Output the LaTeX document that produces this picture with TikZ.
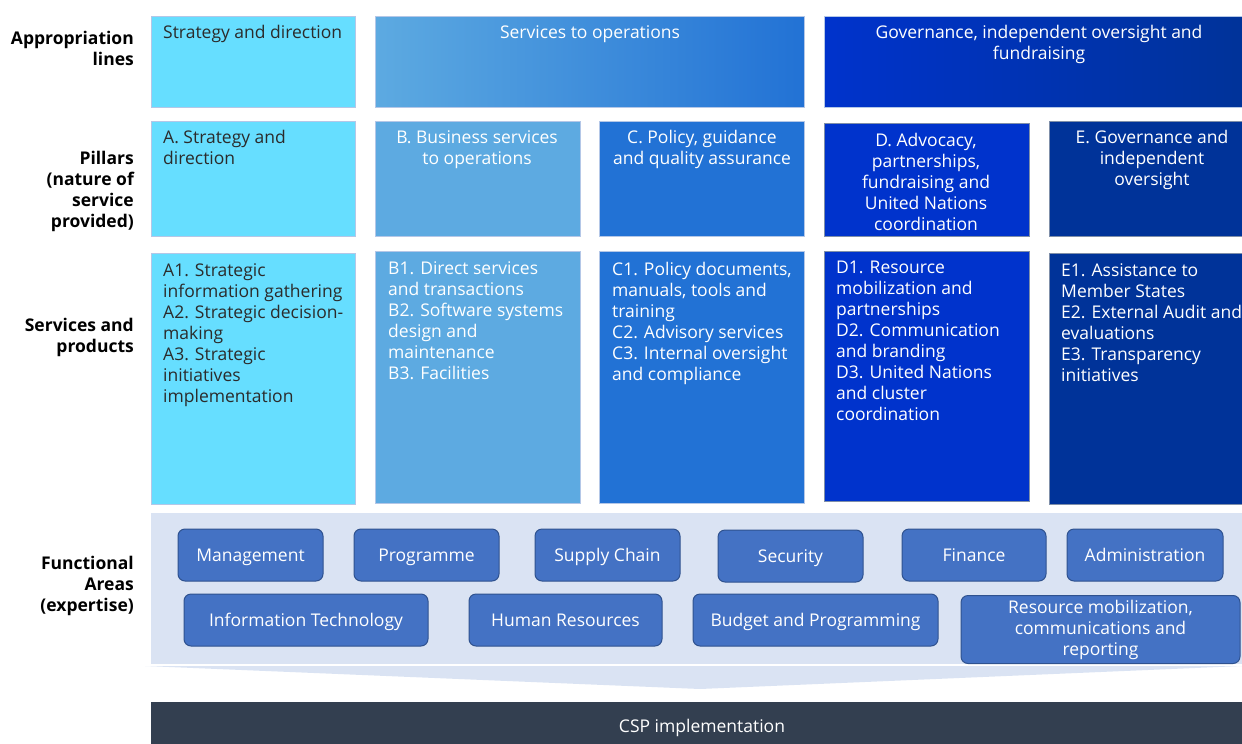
\documentclass[tikz,border=0pt]{standalone}
\usepackage{fontspec}
\setmainfont{Open Sans}
\definecolor{cyanA}{HTML}{66DEFF}
\definecolor{blueB}{HTML}{5DAAE1}
\definecolor{blueC}{HTML}{2272D5}
\definecolor{blueD}{HTML}{0033CC}
\definecolor{navyE}{HTML}{003399}
\definecolor{boxline}{HTML}{B4C7E7}
\definecolor{darkline}{HTML}{7F8FA9}
\definecolor{darktxt}{HTML}{2B2B2B}
\definecolor{band}{HTML}{DAE3F3}
\definecolor{pillfill}{HTML}{4472C4}
\definecolor{pillline}{HTML}{2F528F}
\definecolor{cspcol}{HTML}{333F50}
\begin{document}
\begin{tikzpicture}[x=1pt,y=-1pt,
  box/.style={draw=boxline, line width=0.8pt, anchor=north west, inner sep=0pt, outer sep=0pt},
  txt/.style={inner sep=0pt, font=\fontsize{17.5}{21}\selectfont, align=left, anchor=north west},
  ctxt/.style={inner sep=0pt, font=\fontsize{17.5}{21}\selectfont, align=center, anchor=north, text=white},
  lab/.style={inner sep=0pt, font=\fontsize{17.5}{21}\selectfont\bfseries, align=right, anchor=north east, text=black},
  pill/.style={draw=pillline, fill=pillfill, rounded corners=7pt, line width=1pt, text=white,
    font=\fontsize{17.5}{21}\selectfont, inner sep=0pt},
  oneline/.style={text height=12.5pt, text depth=0pt}
]
\useasboundingbox (0,0) rectangle (1242,744);

% left labels
\node[lab] (l1) at (134,31) {Appropriation\\lines};
\node[lab] (l2) at (134,151) {Pillars\\(nature of\\service\\provided)};
\node[lab] (l3) at (134,318) {Services and\\products};
\node[lab] (l4) at (134,556) {Functional\\Areas\\(expertise)};

% row 1: appropriation lines
\node[box, fill=cyanA, minimum width=204, minimum height=91] (apA) at (151,16) {};
\node[box, left color=blueB, right color=blueC, minimum width=429, minimum height=91] (apB) at (375,16) {};
\node[box, left color=blueD, right color=navyE, minimum width=420, minimum height=91] (apC) at (824,16) {};
\node[txt, text=darktxt] (tapA) at (163,25.5) {Strategy and direction};
\node[ctxt] (tapB) at (590,25.5) {Services to operations};
\node[ctxt] (tapC) at (1039,25.5) {Governance, independent oversight and\\fundraising};

% row 2: pillars
\node[box, fill=cyanA, minimum width=204, minimum height=115] (pA) at (151,121) {};
\node[box, fill=blueB, minimum width=205, minimum height=115] (pB) at (375,121) {};
\node[box, fill=blueC, minimum width=205, minimum height=115] (pC) at (599,121) {};
\node[box, draw=darkline, fill=blueD, minimum width=205, minimum height=113] (pD) at (824,123) {};
\node[box, draw=darkline, fill=navyE, minimum width=195, minimum height=115] (pE) at (1049,121) {};
\node[txt, text=darktxt] (tpA) at (163,130) {A. Strategy and\\direction};
\node[ctxt] (tpB) at (477,130) {B. Business services\\to operations};
\node[ctxt] (tpC) at (702,130) {C. Policy, guidance\\and quality assurance};
\node[ctxt] (tpD) at (926,133) {D. Advocacy,\\partnerships,\\fundraising and\\United Nations\\coordination};
\node[ctxt] (tpE) at (1152,130) {E. Governance and\\independent\\oversight};

% row 3: services and products
\node[box, fill=cyanA, minimum width=204, minimum height=251] (sA) at (151,253) {};
\node[box, fill=blueB, minimum width=205, minimum height=252] (sB) at (375,251) {};
\node[box, fill=blueC, minimum width=205, minimum height=252] (sC) at (599,251) {};
\node[box, draw=darkline, fill=blueD, minimum width=205, minimum height=250] (sD) at (824,251) {};
\node[box, draw=darkline, fill=navyE, minimum width=195, minimum height=251] (sE) at (1049,253) {};
\node[txt, text=darktxt] (tsA) at (163,263.5) {A1. Strategic\\information gathering\\A2. Strategic decision-\\making\\A3. Strategic\\initiatives\\implementation};
\node[txt, text=white] (tsB) at (388,261.5) {B1. Direct services\\and transactions\\B2. Software systems\\design and\\maintenance\\B3. Facilities};
\node[txt, text=white] (tsC) at (612,261.5) {C1. Policy documents,\\manuals, tools and\\training\\C2. Advisory services\\C3. Internal oversight\\and compliance};
\node[txt, text=white] (tsD) at (836,261) {D1. Resource\\mobilization and\\partnerships\\D2. Communication\\and branding\\D3. United Nations\\and cluster\\coordination};
\node[txt, text=white] (tsE) at (1061,263) {E1. Assistance to\\Member States\\E2. External Audit and\\evaluations\\E3. Transparency\\initiatives};

% functional areas band
\node[fill=band, anchor=north west, inner sep=0pt, minimum width=1091, minimum height=151] (fband) at (151,513) {};
\coordinate (wl) at (145,666);
\coordinate (wr) at (1242,666);
\coordinate (wb) at (700,689);
\fill[band] (wl) -- (wr) -- (wb) -- cycle;

\node[pill, oneline, minimum width=145, minimum height=52] (mgmt) at (250.5,555) {Management};
\node[pill, oneline, minimum width=145, minimum height=52] (prog) at (426.5,555) {Programme};
\node[pill, oneline, minimum width=145, minimum height=52] (supc) at (607.5,555) {Supply Chain};
\node[pill, oneline, minimum width=145, minimum height=52] (secu) at (790.5,556) {Security};
\node[pill, oneline, minimum width=144, minimum height=52] (fina) at (974,555) {Finance};
\node[pill, oneline, minimum width=156, minimum height=52] (admi) at (1145,555) {Administration};
\node[pill, oneline, minimum width=244, minimum height=52] (inft) at (306,620) {Information Technology};
\node[pill, oneline, minimum width=193, minimum height=52] (humr) at (565.5,620) {Human Resources};
\node[pill, oneline, minimum width=245, minimum height=52] (budg) at (815.5,620) {Budget and Programming};
\node[pill, align=center, minimum width=279, minimum height=68] (resm) at (1100.5,629.5) {Resource mobilization,\\communications and\\reporting};

% CSP implementation
\node[fill=cspcol, anchor=north west, inner sep=0pt, minimum width=1091, minimum height=42] (csp) at (151,702) {};
\node[text=white, font=\fontsize{17.5}{21}\selectfont, inner sep=0pt, oneline] (tcsp) at (702,726) {CSP implementation};
\end{tikzpicture}
\end{document}
